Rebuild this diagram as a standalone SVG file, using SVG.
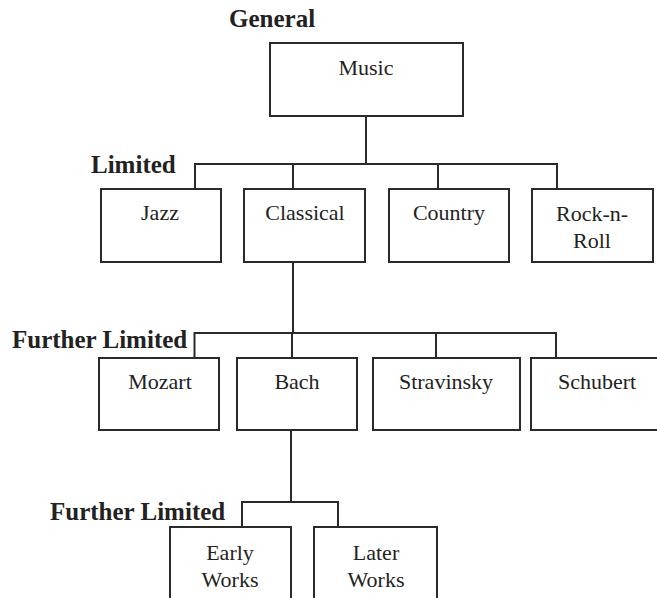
<svg xmlns="http://www.w3.org/2000/svg" width="657" height="598" viewBox="0 0 657 598">
<style>
.box{fill:none;stroke:#2a2a2a;stroke-width:2}
.con{fill:none;stroke:#2a2a2a;stroke-width:2}
.t{font-family:"Liberation Serif","Times New Roman",serif;font-size:22px;fill:#222;text-anchor:middle}
.lbl{font-family:"Liberation Serif","Times New Roman",serif;font-size:25px;font-weight:bold;fill:#222}
</style>
<rect width="657" height="598" fill="#ffffff"/>
<g id="labels">
<text class="lbl" x="229" y="27">General</text>
<text class="lbl" x="91" y="173">Limited</text>
<text class="lbl" x="12" y="348">Further Limited</text>
<text class="lbl" x="50" y="520">Further Limited</text>
</g>
<g id="connectors">
<path class="con" d="M366 116V164M195 189V164H557V189M293 164V189M438 164V189"/>
<path class="con" d="M293 262V333M194.5 358V333H556V358M292 333V358M436 333V358"/>
<path class="con" d="M291 430V502M242 527V502H338V527"/>
</g>
<g id="music"><rect class="box" x="270" y="43" width="193" height="73"/><text class="t" x="366" y="75">Music</text></g>
<g id="jazz"><rect class="box" x="101" y="189" width="120" height="73"/><text class="t" x="160" y="220">Jazz</text></g>
<g id="classical"><rect class="box" x="244" y="189" width="121" height="73"/><text class="t" x="305" y="220">Classical</text></g>
<g id="country"><rect class="box" x="389" y="189" width="120" height="73"/><text class="t" x="449" y="220">Country</text></g>
<g id="rocknroll"><rect class="box" x="532" y="189" width="121" height="73"/><text class="t" x="592" y="221">Rock-n-</text><text class="t" x="592" y="248">Roll</text></g>
<g id="mozart"><rect class="box" x="99" y="358" width="120" height="72"/><text class="t" x="160" y="389">Mozart</text></g>
<g id="bach"><rect class="box" x="237" y="358" width="120" height="72"/><text class="t" x="297" y="389">Bach</text></g>
<g id="stravinsky"><rect class="box" x="373" y="358" width="147" height="72"/><text class="t" x="446" y="389">Stravinsky</text></g>
<g id="schubert"><rect class="box" x="531" y="358" width="134" height="72"/><text class="t" x="597" y="389">Schubert</text></g>
<g id="early"><rect class="box" x="170" y="527" width="121" height="80"/><text class="t" x="230" y="560">Early</text><text class="t" x="230" y="587">Works</text></g>
<g id="later"><rect class="box" x="314" y="527" width="123" height="80"/><text class="t" x="376" y="560">Later</text><text class="t" x="376" y="587">Works</text></g>
</svg>
